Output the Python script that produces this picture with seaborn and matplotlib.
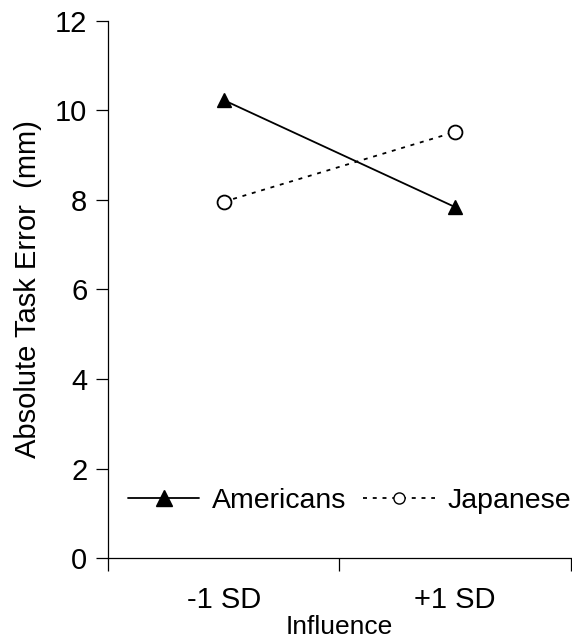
#!/usr/bin/env python3
"""Absolute task error by influence level for Americans and Japanese."""

import matplotlib
matplotlib.use("Agg")
import matplotlib.pyplot as plt
import pandas as pd
import seaborn as sns
from matplotlib.lines import Line2D

influence = ["-1 SD", "+1 SD"]
americans = [10.23, 7.84]
japanese = [7.96, 9.52]
groups = ["Americans", "Japanese"]

df = pd.DataFrame({
    "Influence": influence * 2,
    "error": americans + japanese,
    "group": [groups[0]] * 2 + [groups[1]] * 2,
})

sns.set_theme(style="ticks")
plt.rcParams["font.family"] = ["Liberation Sans", "DejaVu Sans"]
plt.rcParams["text.color"] = "black"
plt.rcParams["axes.labelcolor"] = "black"

fig = plt.figure(figsize=(5.72, 6.44), dpi=100)
ax = fig.add_axes([0.189, 0.1335, 0.809, 0.834])

dotted = (0, (2.2, 3.2))
sns.pointplot(
    data=df, x="Influence", y="error", hue="group", order=influence,
    hue_order=groups, palette=["black", "black"], markers=["^", "o"],
    linestyles=["-", dotted], dodge=False, legend=False, ax=ax,
    linewidth=1.3, markersize=10,
)
for line in ax.lines:
    if line.get_marker() == "o":
        line.set_markerfacecolor("white")
        line.set_markeredgecolor("black")
        line.set_markeredgewidth(1.3)

ax.set_xlim(-0.5, 1.5)
ax.set_ylim(0, 12)
ax.set_yticks(range(0, 13, 2))
ax.set_xticks([-0.5, 0.5, 1.5], minor=True)
ax.tick_params(axis="x", which="major", length=0, labelsize=21, pad=20, colors="black")
ax.tick_params(axis="x", which="minor", length=9, width=0.9, direction="out", color="black")
ax.tick_params(axis="y", length=9, width=0.9, labelsize=21, pad=6, colors="black")
for side in ["top", "right"]:
    ax.spines[side].set_visible(False)
for side in ["left", "bottom"]:
    ax.spines[side].set_color("black")
    ax.spines[side].set_linewidth(0.9)

ax.set_xlabel("Influence", fontsize=19, labelpad=1)
ax.set_ylabel("Absolute Task Error  (mm)", fontsize=21, labelpad=9)

handles = [
    Line2D([], [], color="black", lw=1.3, marker="^", markersize=11),
    Line2D([], [], color="black", lw=1.3, ls=dotted, marker="o", markersize=8,
           markerfacecolor="white"),
]
ax.legend(handles, groups, loc="lower left", bbox_to_anchor=(0.0, 0.045),
          ncol=2, frameon=False, fontsize=20.5, handlelength=2.5,
          columnspacing=0.6, handletextpad=0.45, borderpad=0.2)

fig.savefig("out.png", dpi=100)
